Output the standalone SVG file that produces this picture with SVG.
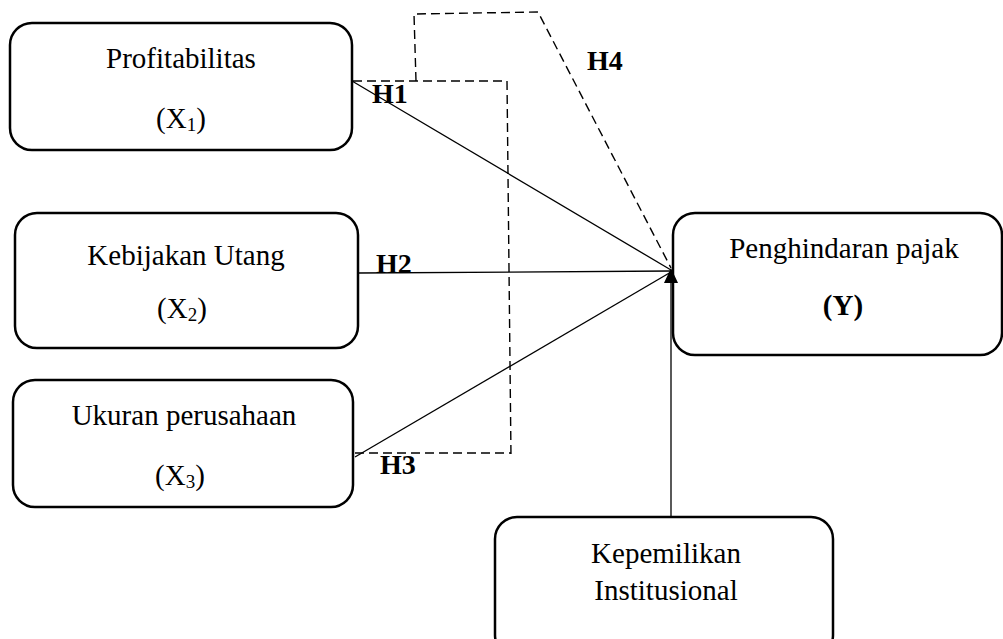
<svg xmlns="http://www.w3.org/2000/svg" width="1003" height="639" viewBox="0 0 1003 639">
<style>
.box{fill:#fff;stroke:#000;stroke-width:2.5}
.t{font-family:"Liberation Serif",serif;font-size:29px;fill:#000;text-anchor:middle}
.h{font-family:"Liberation Serif",serif;font-size:28px;font-weight:bold;fill:#000}
.sub{font-size:19px}
.ln{fill:none;stroke:#000;stroke-width:1.3}
.ds{fill:none;stroke:#000;stroke-width:1.4;stroke-dasharray:9 5}
</style>
<g id="x1">
<rect class="box" x="10" y="23" width="342" height="127" rx="22"/>
<text class="t" x="181" y="68">Profitabilitas</text>
<text class="t" x="181" y="128">(X<tspan class="sub" dy="3">1</tspan><tspan dy="-3">)</tspan></text>
</g>
<g id="x2">
<rect class="box" x="15" y="213" width="343" height="135" rx="22"/>
<text class="t" x="186" y="265">Kebijakan Utang</text>
<text class="t" x="182" y="318">(X<tspan class="sub" dy="3">2</tspan><tspan dy="-3">)</tspan></text>
</g>
<g id="x3">
<rect class="box" x="13" y="380" width="340" height="127" rx="22"/>
<text class="t" x="184" y="425">Ukuran perusahaan</text>
<text class="t" x="180" y="485">(X<tspan class="sub" dy="3">3</tspan><tspan dy="-3">)</tspan></text>
</g>
<g id="y">
<rect class="box" x="673" y="213" width="329" height="142" rx="22"/>
<text class="t" x="844" y="258">Penghindaran pajak</text>
<text class="t" x="843" y="315" font-weight="bold">(Y)</text>
</g>
<g id="z">
<rect class="box" x="495" y="517" width="338" height="140" rx="22"/>
<text class="t" x="666" y="563">Kepemilikan</text>
<text class="t" x="666" y="600">Institusional</text>
</g>
<g id="connectors">
<line class="ln" x1="352" y1="81" x2="671" y2="270"/>
<line class="ln" x1="358" y1="273" x2="671" y2="271"/>
<line class="ln" x1="355" y1="457" x2="671" y2="272"/>
<line class="ln" x1="671" y1="517" x2="671" y2="280"/>
<polygon points="671,268 664,283 678,283" fill="#000"/>
<polyline class="ds" points="353,81 507,81 511,457"/>
<line class="ds" x1="355" y1="453" x2="511" y2="453"/>
<polyline class="ds" points="416,81 414,14 538,12 671,268"/>
<text class="h" x="372" y="103">H1</text>
<text class="h" x="376" y="273">H2</text>
<text class="h" x="380" y="474">H3</text>
<text class="h" x="587" y="70">H4</text>
</g>
</svg>
